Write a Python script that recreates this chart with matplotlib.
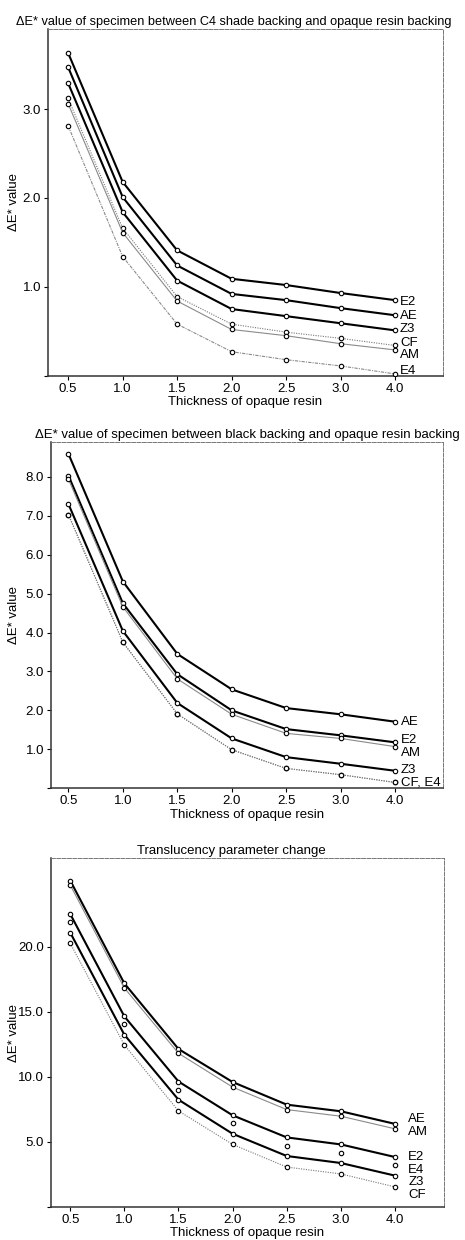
import numpy as np
import matplotlib
matplotlib.use("Agg")
import matplotlib.pyplot as plt

plt.rcParams.update({
    "font.family": ["Liberation Sans", "DejaVu Sans"],
    "font.size": 9.5,
})

thickness = ["0.5", "1.0", "1.5", "2.0", "2.5", "3.0", "4.0"]

# panel 1: C4 shade backing vs opaque resin backing
c4 = {
    "E2": [3.63, 2.18, 1.41, 1.09, 1.02, 0.93, 0.85],
    "AE": [3.47, 2.01, 1.24, 0.92, 0.85, 0.76, 0.68],
    "Z3": [3.29, 1.84, 1.07, 0.75, 0.67, 0.59, 0.51],
    "CF": [3.12, 1.66, 0.89, 0.58, 0.49, 0.42, 0.34],
    "AM": [3.06, 1.61, 0.84, 0.52, 0.45, 0.36, 0.29],
    "E4": [2.81, 1.34, 0.58, 0.27, 0.18, 0.11, 0.02],
}
c4_label_y = {"E2": 0.83, "AE": 0.67, "Z3": 0.52, "CF": 0.37, "AM": 0.23, "E4": 0.05}

# panel 2: black backing vs opaque resin backing
black = {
    "AE": [8.59, 5.31, 3.45, 2.54, 2.06, 1.90, 1.71],
    "E2": [8.03, 4.75, 2.93, 2.00, 1.52, 1.36, 1.18],
    "AM": [7.94, 4.66, 2.81, 1.90, 1.41, 1.28, 1.07],
    "Z3": [7.30, 4.04, 2.19, 1.28, 0.80, 0.63, 0.45],
    "CF": [7.03, 3.75, 1.91, 0.99, 0.51, 0.35, 0.15],
    "E4": [7.03, 3.75, 1.91, 0.99, 0.51, 0.35, 0.15],
}
black_labels = [("AE", 1.70), ("E2", 1.23), ("AM", 0.91), ("Z3", 0.46), ("CF, E4", 0.15)]

# panel 3: translucency parameter change
tp = {
    "AE": [25.09, 17.18, 12.13, 9.59, 7.85, 7.34, 6.37],
    "AM": [24.75, 16.83, 11.80, 9.20, 7.47, 6.96, 5.99],
    "E2": [22.52, 14.64, 9.63, 7.03, 5.33, 4.79, 3.82],
    "E4": [21.90, 14.05, 9.00, 6.42, 4.69, 4.15, 3.18],
    "Z3": [21.09, 13.23, 8.23, 5.61, 3.90, 3.36, 2.39],
    "CF": [20.27, 12.44, 7.37, 4.79, 3.05, 2.52, 1.52],
}
tp_label_y = {"AE": 6.78, "AM": 5.78, "E2": 3.79, "E4": 2.85, "Z3": 1.88, "CF": 0.89}

THICK = dict(color="black", lw=1.5, ls="-")
GRAY = dict(color="#8a8a8a", lw=0.8, ls="-")
DOT = dict(color="#777777", lw=0.8, ls=(0, (1, 1.2)))
DASHDOT = dict(color="#8a8a8a", lw=0.8, ls=(0, (3, 1, 1, 1)))
NONE = dict(color="black", lw=0, ls="none")

styles1 = {"E2": THICK, "AE": THICK, "Z3": THICK, "CF": DOT, "AM": GRAY, "E4": DASHDOT}
styles2 = {"AE": THICK, "E2": THICK, "AM": GRAY, "Z3": THICK, "CF": DOT, "E4": DOT}
styles3 = {"AE": THICK, "AM": GRAY, "E2": THICK, "E4": NONE, "Z3": THICK, "CF": DOT}

W, H = 465, 1240
fig = plt.figure(figsize=(W / 100, H / 100), dpi=100)

pos = np.arange(len(thickness))


def draw(ax, data, styles, title, ylim, yticks, xlim, title_x=0.5, title_size=9.5):
    for name, vals in data.items():
        st = styles[name]
        ax.plot(pos, vals, color=st["color"], lw=st["lw"], ls=st["ls"],
                marker="o", ms=3.2, mfc="white", mec="black", mew=0.8, zorder=3)
    ax.set_xlim(*xlim)
    ax.set_ylim(*ylim)
    ax.set_xticks(pos)
    ax.set_xticklabels(thickness)
    ax.set_yticks([0] + yticks)
    ax.set_yticklabels([""] + [f"{v:.1f}" for v in yticks])
    ax.tick_params(direction="out", length=3, width=0.8, pad=2)
    for s in ("top", "right"):
        ax.spines[s].set_color("#777777")
        ax.spines[s].set_linewidth(0.7)
        ax.spines[s].set_linestyle((0, (4, 1.5)))
    for s in ("left", "bottom"):
        ax.spines[s].set_linewidth(1.1)
        ax.spines[s].set_color("#333333")
    ax.set_title(title, fontsize=title_size, pad=3, x=title_x)
    ax.set_xlabel("Thickness of opaque resin", labelpad=1)
    ax.set_ylabel("ΔE* value", labelpad=2)


def box(left, top, right, bottom):
    return [left / W, 1 - bottom / H, (right - left) / W, (bottom - top) / H]


ax1 = fig.add_axes(box(48, 29, 443, 375.7))
draw(ax1, c4, styles1,
     "ΔE* value of specimen between C4 shade backing and opaque resin backing",
     (0, 3.9), [1.0, 2.0, 3.0], (-0.37, 6.88), title_x=0.471, title_size=9.2)
for name, y in c4_label_y.items():
    ax1.annotate(name, (pos[-1], y), xytext=(3.5, 0), textcoords="offset points",
                 va="center", ha="left")

ax2 = fig.add_axes(box(51, 441.7, 443, 788.3))
draw(ax2, black, styles2,
     "ΔE* value of specimen between black backing and opaque resin backing",
     (0, 8.9), [1.0, 2.0, 3.0, 4.0, 5.0, 6.0, 7.0, 8.0], (-0.32, 6.88))
for name, y in black_labels:
    ax2.annotate(name, (pos[-1], y), xytext=(4, 0), textcoords="offset points",
                 va="center", ha="left")

ax3 = fig.add_axes(box(50.7, 858.3, 444.3, 1206.7))
draw(ax3, tp, styles3, "Translucency parameter change",
     (0, 26.8), [5.0, 10.0, 15.0, 20.0], (-0.36, 6.91), title_x=0.458)
for name, y in tp_label_y.items():
    ax3.annotate(name, (pos[-1], y), xytext=(9.5, 0), textcoords="offset points",
                 va="center", ha="left")

for ax in (ax1, ax2, ax3):
    bb = ax.get_position()
    ax.yaxis.set_label_coords(20 / W, 0.5 * (bb.y0 + bb.y1), transform=fig.transFigure)

fig.savefig("out.png", dpi=100)
